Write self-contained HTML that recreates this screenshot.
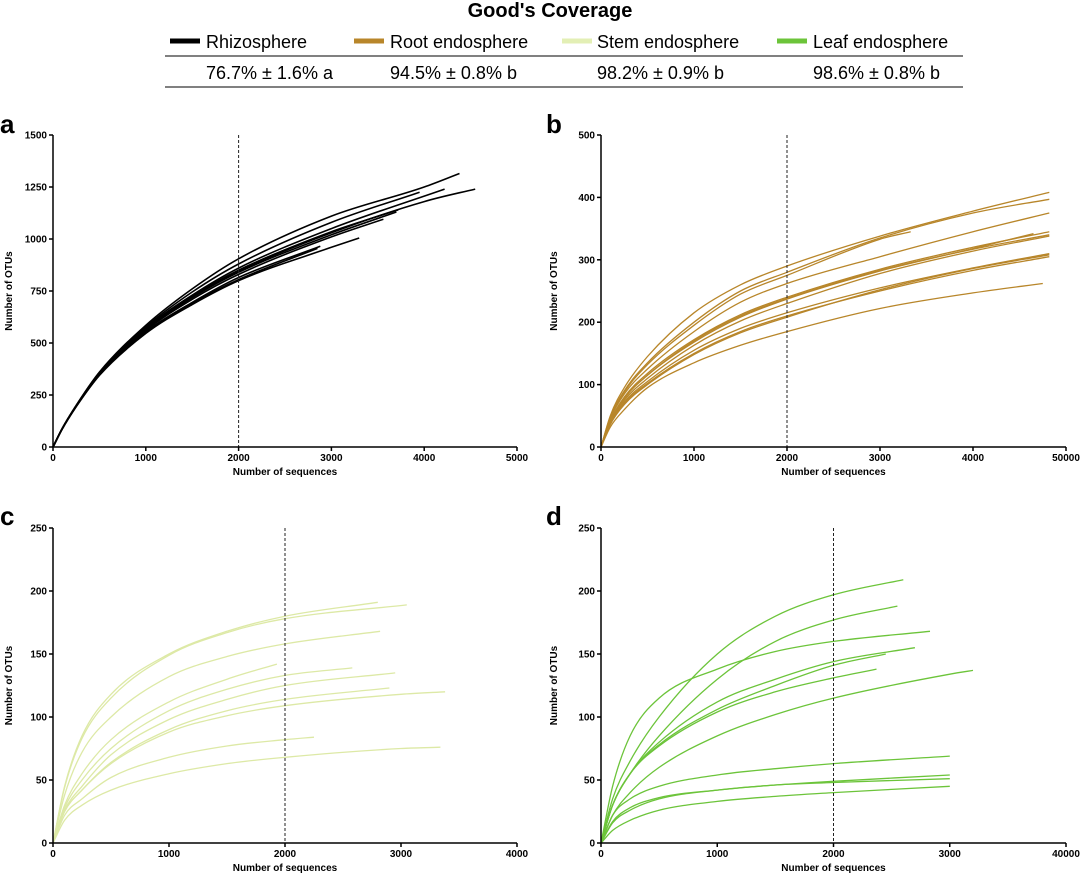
<!DOCTYPE html>
<html><head><meta charset="utf-8"><style>
body{margin:0;background:#fff;width:1080px;height:875px;overflow:hidden;font-family:"Liberation Sans",Arial,sans-serif}
svg{position:absolute;left:0;top:0}
</style></head><body>
<svg id="fig" width="1080" height="875">
<text x="550" y="17" text-anchor="middle" font-size="20" font-weight="bold">Good's Coverage</text>
<g>
<line x1="170" y1="41" x2="200" y2="41" stroke="#000" stroke-width="5"/>
<text x="206" y="48" font-size="18">Rhizosphere</text>
<line x1="354" y1="41" x2="384" y2="41" stroke="#b8862a" stroke-width="5"/>
<text x="390" y="48" font-size="18">Root endosphere</text>
<line x1="562" y1="41" x2="592" y2="41" stroke="#e3efb5" stroke-width="5"/>
<text x="597" y="48" font-size="18">Stem endosphere</text>
<line x1="777" y1="41" x2="807" y2="41" stroke="#6cc43a" stroke-width="5"/>
<text x="813" y="48" font-size="18">Leaf endosphere</text>
<line x1="165" y1="56" x2="963" y2="56" stroke="#000" stroke-width="1"/>
<line x1="165" y1="87" x2="963" y2="87" stroke="#000" stroke-width="1"/>
<text x="206" y="79" font-size="18">76.7% ± 1.6% a</text>
<text x="390" y="79" font-size="18">94.5% ± 0.8% b</text>
<text x="597" y="79" font-size="18">98.2% ± 0.9% b</text>
<text x="813" y="79" font-size="18">98.6% ± 0.8% b</text>
</g>
</svg>
<script>
// Panel a: Rhizosphere curves [x,y] samples
const rhizoCurves=[
[[0,0],[100,90],[250,200],[500,360],[1000,585],[1500,760],[2000,905],[3000,1110],[4000,1250],[4380,1315]],
[[0,0],[100,90],[250,200],[500,358],[1000,578],[1500,745],[2000,880],[3000,1080],[3950,1225]],
[[0,0],[100,89],[250,198],[500,355],[1000,572],[1500,730],[2000,860],[3000,1050],[4220,1240]],
[[0,0],[100,89],[250,198],[500,352],[1000,566],[1500,720],[2000,845],[3000,1030],[4000,1180],[4550,1240]],
[[0,0],[100,89],[250,198],[500,354],[1000,570],[1500,725],[2000,850],[3000,1035],[3720,1140]],
[[0,0],[100,88],[250,197],[500,352],[1000,565],[1500,718],[2000,840],[3000,1020],[3700,1130]],
[[0,0],[100,88],[250,196],[500,350],[1000,560],[1500,710],[2000,830],[3000,1010],[3560,1095]],
[[0,0],[100,88],[250,195],[500,347],[1000,553],[1500,695],[2000,815],[2880,965]],
[[0,0],[100,87],[250,194],[500,345],[1000,548],[1500,690],[2000,805],[2850,955]],
[[0,0],[100,87],[250,194],[500,344],[1000,546],[1500,685],[2000,800],[3000,960],[3300,1005]]
];
// Panel b: Root endosphere
const rootCurves=[
[[0,0],[100,50],[250,95],[500,145],[1000,215],[1500,260],[2000,290],[3000,338],[4000,378],[4820,408]],
[[0,0],[100,48],[250,90],[500,135],[1000,200],[1500,250],[2000,280],[3000,335],[4000,375],[4820,397]],
[[0,0],[100,47],[250,88],[500,132],[1000,195],[1500,245],[2000,275],[3000,333],[3330,345]],
[[0,0],[100,45],[250,85],[500,125],[1000,185],[1500,232],[2000,262],[3000,305],[4000,345],[4820,375]],
[[0,0],[100,42],[250,80],[500,118],[1000,172],[1500,212],[2000,240],[3000,285],[4000,320],[4820,345]],
[[0,0],[100,41],[250,78],[500,115],[1000,170],[1500,210],[2000,238],[3000,283],[4000,317],[4820,340]],
[[0,0],[100,41],[250,78],[500,115],[1000,168],[1500,208],[2000,237],[3000,282],[4000,318],[4650,342]],
[[0,0],[100,40],[250,75],[500,110],[1000,163],[1500,202],[2000,230],[3000,278],[4000,314],[4820,338]],
[[0,0],[100,38],[250,72],[500,105],[1000,155],[1500,190],[2000,215],[3000,255],[4000,287],[4820,310]],
[[0,0],[100,37],[250,70],[500,102],[1000,150],[1500,185],[2000,210],[3000,250],[4000,283],[4820,305]],
[[0,0],[100,36],[250,68],[500,100],[1000,148],[1500,183],[2000,208],[3000,252],[4000,286],[4820,308]],
[[0,0],[100,32],[250,60],[500,95],[1000,135],[1500,163],[2000,185],[3000,222],[4000,247],[4750,262]]
];
// Panel c: Stem endosphere
const stemCurves=[
[[0,0],[100,45],[250,85],[500,118],[1000,150],[1500,168],[2000,180],[2800,191]],
[[0,0],[100,44],[250,83],[500,115],[1000,149],[1500,167],[2000,178],[3050,189]],
[[0,0],[100,38],[250,72],[500,100],[1000,132],[1500,148],[2000,158],[2820,168]],
[[0,0],[100,30],[250,55],[500,82],[1000,112],[1500,130],[1930,142]],
[[0,0],[100,28],[250,50],[500,75],[1000,105],[1500,122],[2000,133],[2580,139]],
[[0,0],[100,26],[250,45],[500,70],[1000,98],[1500,114],[2000,125],[2950,135]],
[[0,0],[100,25],[250,42],[500,64],[1000,90],[1500,105],[2000,114],[2900,123]],
[[0,0],[100,25],[250,42],[500,63],[1000,88],[1500,101],[2000,109],[3000,118],[3380,120]],
[[0,0],[100,22],[250,35],[500,52],[1000,68],[1500,77],[2000,82],[2250,84]],
[[0,0],[100,18],[250,30],[500,42],[1000,55],[1500,63],[2000,68],[3000,75],[3340,76]]
];
// Panel d: Leaf endosphere
const leafCurves=[
[[0,0],[100,35],[250,65],[500,100],[1000,150],[1500,180],[2000,197],[2600,209]],
[[0,0],[100,30],[250,55],[500,85],[1000,130],[1500,160],[2000,177],[2550,188]],
[[0,0],[100,45],[250,85],[500,115],[1000,138],[1500,152],[2000,160],[2830,168]],
[[0,0],[100,30],[250,55],[500,80],[1000,112],[1500,130],[2000,144],[2700,155]],
[[0,0],[100,30],[250,55],[500,78],[1000,106],[1500,125],[2000,141],[2450,150]],
[[0,0],[100,30],[250,55],[500,77],[1000,104],[1500,120],[2000,131],[2370,138]],
[[0,0],[100,22],[250,40],[500,60],[1000,85],[1500,102],[2000,115],[3000,134],[3200,137]],
[[0,0],[100,22],[250,35],[500,45],[1000,54],[1500,59],[2000,63],[3000,69]],
[[0,0],[100,16],[250,26],[500,35],[1000,42],[1500,46],[2000,49],[3000,54]],
[[0,0],[100,17],[250,28],[500,36],[1000,42],[1500,46],[2000,48],[3000,51]],
[[0,0],[100,10],[250,18],[500,26],[1000,33],[1500,37],[2000,40],[3000,45]]
];
const xTicksA=[0,1000,2000,3000,4000,5000];
const xTickLabelsB=["0","1000","2000","3000","4000","50000"];
const xTicksCD=[0,1000,2000,3000,4000];
const xTickLabelsD=["0","1000","2000","3000","40000"];
const yTicksA=[0,250,500,750,1000,1250,1500];
const yTicksB=[0,100,200,300,400,500];
const yTicksCD=[0,50,100,150,200,250];
const cutoff=2000;

const NS="http://www.w3.org/2000/svg";
const svg=document.getElementById('fig');
function mk(tag,attrs,parent){const e=document.createElementNS(NS,tag);for(const k in attrs)e.setAttribute(k,attrs[k]);(parent||svg).appendChild(e);return e;}
// monotone cubic (Fritsch-Carlson) through screen points
function path(p){const n=p.length,d=[],m=new Array(n);
 for(let i=0;i<n-1;i++)d.push((p[i+1][1]-p[i][1])/(p[i+1][0]-p[i][0]));
 m[0]=d[0];m[n-1]=d[n-2];
 for(let i=1;i<n-1;i++){m[i]=(d[i-1]*d[i]<=0)?0:(d[i-1]+d[i])/2;}
 for(let i=0;i<n-1;i++){if(d[i]===0){m[i]=m[i+1]=0;continue;}const a=m[i]/d[i],b=m[i+1]/d[i],s=a*a+b*b;if(s>9){const t=3/Math.sqrt(s);m[i]=t*a*d[i];m[i+1]=t*b*d[i];}}
 let s="M"+p[0][0].toFixed(1)+","+p[0][1].toFixed(1);
 for(let i=0;i<n-1;i++){const h=(p[i+1][0]-p[i][0])/3;
  s+="C"+(p[i][0]+h).toFixed(1)+","+(p[i][1]+m[i]*h).toFixed(1)+" "+(p[i+1][0]-h).toFixed(1)+","+(p[i+1][1]-m[i+1]*h).toFixed(1)+" "+p[i+1][0].toFixed(1)+","+p[i+1][1].toFixed(1);}
 return s;}
function panel(o){
 const g=mk('g',{});
 
 
 const sx=v=>o.x0+(v-o.xmin)/(o.xmax-o.xmin)*(o.x1-o.x0);
 const sy=v=>o.y0-(v/o.ymax)*(o.y0-o.y1);
 const lab=mk('text',{x:o.labx,y:o.laby,'font-size':26,'font-weight':'bold'},g);lab.textContent=o.id;
 
 
 const curves=mk('g',{},g);
 
 
 o.curves.forEach((c,i)=>{const p=mk('path',{d:path(c.map(q=>[sx(q[0]),sy(q[1])])),fill:'none',stroke:o.color,'stroke-width':o.sw},curves);
  
  });
 const dl=mk('line',{x1:sx(cutoff),x2:sx(cutoff),y1:o.y1,y2:o.y0,stroke:'#222','stroke-width':1,'stroke-dasharray':'3,2'},g);
 
 
 const ax=mk('path',{d:`M${o.x0},${o.y1}V${o.y0}H${o.x1}`,fill:'none',stroke:'#000','stroke-width':1.5},g);
 
 
 o.xt.forEach((t,i)=>{mk('line',{x1:sx(t),x2:sx(t),y1:o.y0,y2:o.y0+4,stroke:'#000','stroke-width':1.5},g);
  const tx=mk('text',{x:sx(t),y:o.y0+14,'font-size':10,'font-weight':'bold','text-anchor':'middle'},g);tx.textContent=o.xl?o.xl[i]:t;
  
  });
 o.yt.forEach(t=>{mk('line',{x1:o.x0-4,x2:o.x0,y1:sy(t),y2:sy(t),stroke:'#000','stroke-width':1.5},g);
  const tx=mk('text',{x:o.x0-6,y:sy(t)+3.5,'font-size':10,'font-weight':'bold','text-anchor':'end'},g);tx.textContent=t;
  
  });
 const xt=mk('text',{x:(o.x0+o.x1)/2,y:o.y0+28,'font-size':10,'font-weight':'bold','text-anchor':'middle'},g);xt.textContent='Number of sequences';
 
 
 const yc=(o.y0+o.y1)/2;
 const yt=mk('text',{x:o.ytx,y:yc,'font-size':10,'font-weight':'bold','text-anchor':'middle',transform:`rotate(-90 ${o.ytx} ${yc})`},g);yt.textContent='Number of OTUs';
 
 
}
panel({id:'a',curves:rhizoCurves,color:'#000',sw:1.6,x0:53,x1:517,xmin:0,xmax:5000,y0:447,y1:135,ymax:1500,xt:xTicksA,yt:yTicksA,labx:0,laby:133,ytx:12});
panel({id:'b',curves:rootCurves,color:'#b8862a',sw:1.3,x0:601,x1:1066,xmin:0,xmax:5000,y0:447,y1:135,ymax:500,xt:xTicksA,xl:xTickLabelsB,yt:yTicksB,labx:546,laby:133,ytx:557});
panel({id:'c',curves:stemCurves,color:'#dde9a6',sw:1.3,x0:53,x1:517,xmin:0,xmax:4000,y0:843,y1:528,ymax:250,xt:xTicksCD,yt:yTicksCD,labx:0,laby:525,ytx:12});
panel({id:'d',curves:leafCurves,color:'#6cc43a',sw:1.3,x0:601,x1:1066,xmin:0,xmax:4000,y0:843,y1:528,ymax:250,xt:xTicksCD,xl:xTickLabelsD,yt:yTicksCD,labx:546,laby:525,ytx:557});
</script>
</body></html>
